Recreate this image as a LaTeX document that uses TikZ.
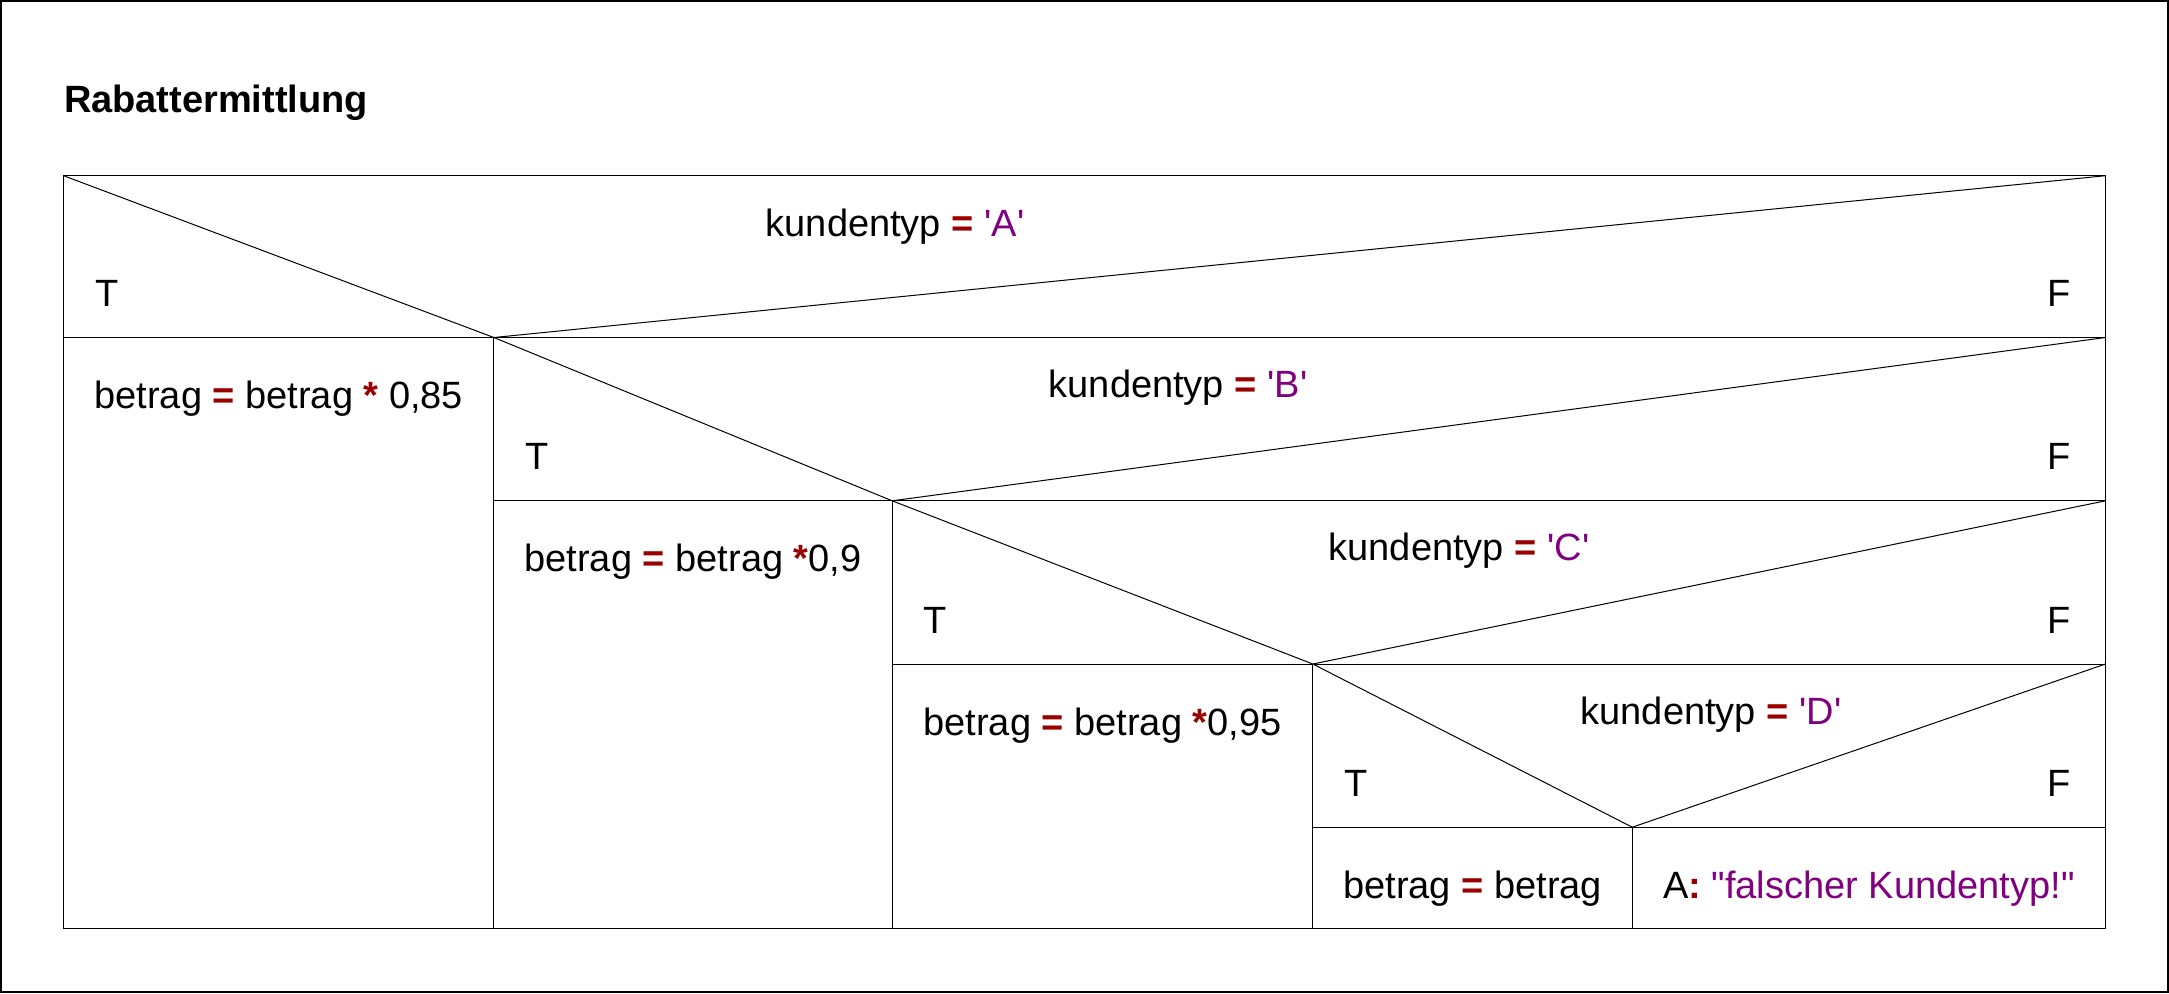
\documentclass[tikz,border=0pt]{standalone}
\usepackage{fontspec}
\setmainfont{Liberation Sans}
\usepackage{xcolor}
\usepackage{tikz}
\usetikzlibrary{positioning}
\definecolor{opred}{RGB}{153,0,0}
\definecolor{strpurple}{RGB}{128,0,128}
\newcommand{\nsop}[1]{\textbf{\textcolor{opred}{#1}}}
\newcommand{\nsstr}[1]{\textcolor{strpurple}{#1}}
\newcommand{\sq}{\textquotesingle}
\newcommand{\dq}{\textquotedbl}

\begin{document}
\begin{tikzpicture}[x=0.5pt, y=-0.5pt,
    line/.style={draw=black, line width=0.5pt},
    label/.style={inner sep=0pt, font=\fontsize{19}{23}\selectfont},
    cond/.style={label, anchor=base},
    tlabel/.style={label, anchor=base west},
    flabel/.style={label, anchor=base east},
    action/.style={label, anchor=base}
]
\useasboundingbox (0,0) rectangle (2169,993);
\draw[line width=1pt] (1,1) rectangle (2168,992);

% Title
\node[label, anchor=base west, font=\fontsize{19}{23}\selectfont\bfseries] (title) at (63.6,112) {Rabattermittlung};

% Corners
\coordinate (r1l) at (63.6,175.7);
\coordinate (r1r) at (2105.4,175.7);
\coordinate (m1) at (63.6,337.5);
\coordinate (s1) at (493.9,337.5);
\coordinate (r2r) at (2105.4,337.5);
\coordinate (s2) at (892.2,500.8);
\coordinate (r3r) at (2105.4,500.8);
\coordinate (s3) at (1312.8,664.0);
\coordinate (r4r) at (2105.4,664.0);
\coordinate (s4) at (1632.3,827.2);
\coordinate (r5r) at (2105.4,827.2);
\coordinate (b0) at (63.6,928.2);
\coordinate (b1) at (493.9,928.2);
\coordinate (b2) at (892.2,928.2);
\coordinate (b3) at (1312.8,928.2);
\coordinate (b4) at (1632.3,928.2);
\coordinate (b5) at (2105.4,928.2);

% Frame and cells
\draw[line] (r1l) -- (r1r) -- (b5) -- (b0) -- cycle;
\draw[line] (m1) -- (r2r);
\draw[line] (s1 |- s2) -- (r3r);
\draw[line] (s2 |- s3) -- (r4r);
\draw[line] (s3 |- s4) -- (r5r);
\draw[line] (s1) -- (b1);
\draw[line] (s2) -- (b2);
\draw[line] (s3) -- (b3);
\draw[line] (s4) -- (b4);

% Decision diagonals
\draw[line] (r1l) -- (s1) -- (r1r);
\draw[line] (s1) -- (s2) -- (r2r);
\draw[line] (s2) -- (s3) -- (r3r);
\draw[line] (s3) -- (s4) -- (r4r);

% Conditions
\node[cond] (condA) at (895,236) {kundentyp \nsop{=} \nsstr{\sq A\sq}};
\node[cond] (condB) at (1178,397.5) {kundentyp \nsop{=} \nsstr{\sq B\sq}};
\node[cond] (condC) at (1459,560.8) {kundentyp \nsop{=} \nsstr{\sq C\sq}};
\node[cond] (condD) at (1711,724) {kundentyp \nsop{=} \nsstr{\sq D\sq}};

\node[tlabel] (t1) at (94.6,306.5) {T};
\node[tlabel] (t2) at (524.9,469.8) {T};
\node[tlabel] (t3) at (923.2,633) {T};
\node[tlabel] (t4) at (1343.8,796.2) {T};
\node[flabel] (f1) at (2071,306.5) {F};
\node[flabel] (f2) at (2071,469.8) {F};
\node[flabel] (f3) at (2071,633) {F};
\node[flabel] (f4) at (2071,796.2) {F};

% Actions
\node[action] (act1) at (278.8,408.5) {betrag \nsop{=} betrag \nsop{*} 0,85};
\node[action] (act2) at (693,571.8) {betrag \nsop{=} betrag \nsop{*}0,9};
\node[action] (act3) at (1102.5,735) {betrag \nsop{=} betrag \nsop{*}0,95};
\node[action] (act4) at (1472.6,898) {betrag \nsop{=} betrag};
\node[action] (act5) at (1868.9,898) {A\nsop{:} \nsstr{\dq falscher Kundentyp!\dq}};

\end{tikzpicture}
\end{document}
